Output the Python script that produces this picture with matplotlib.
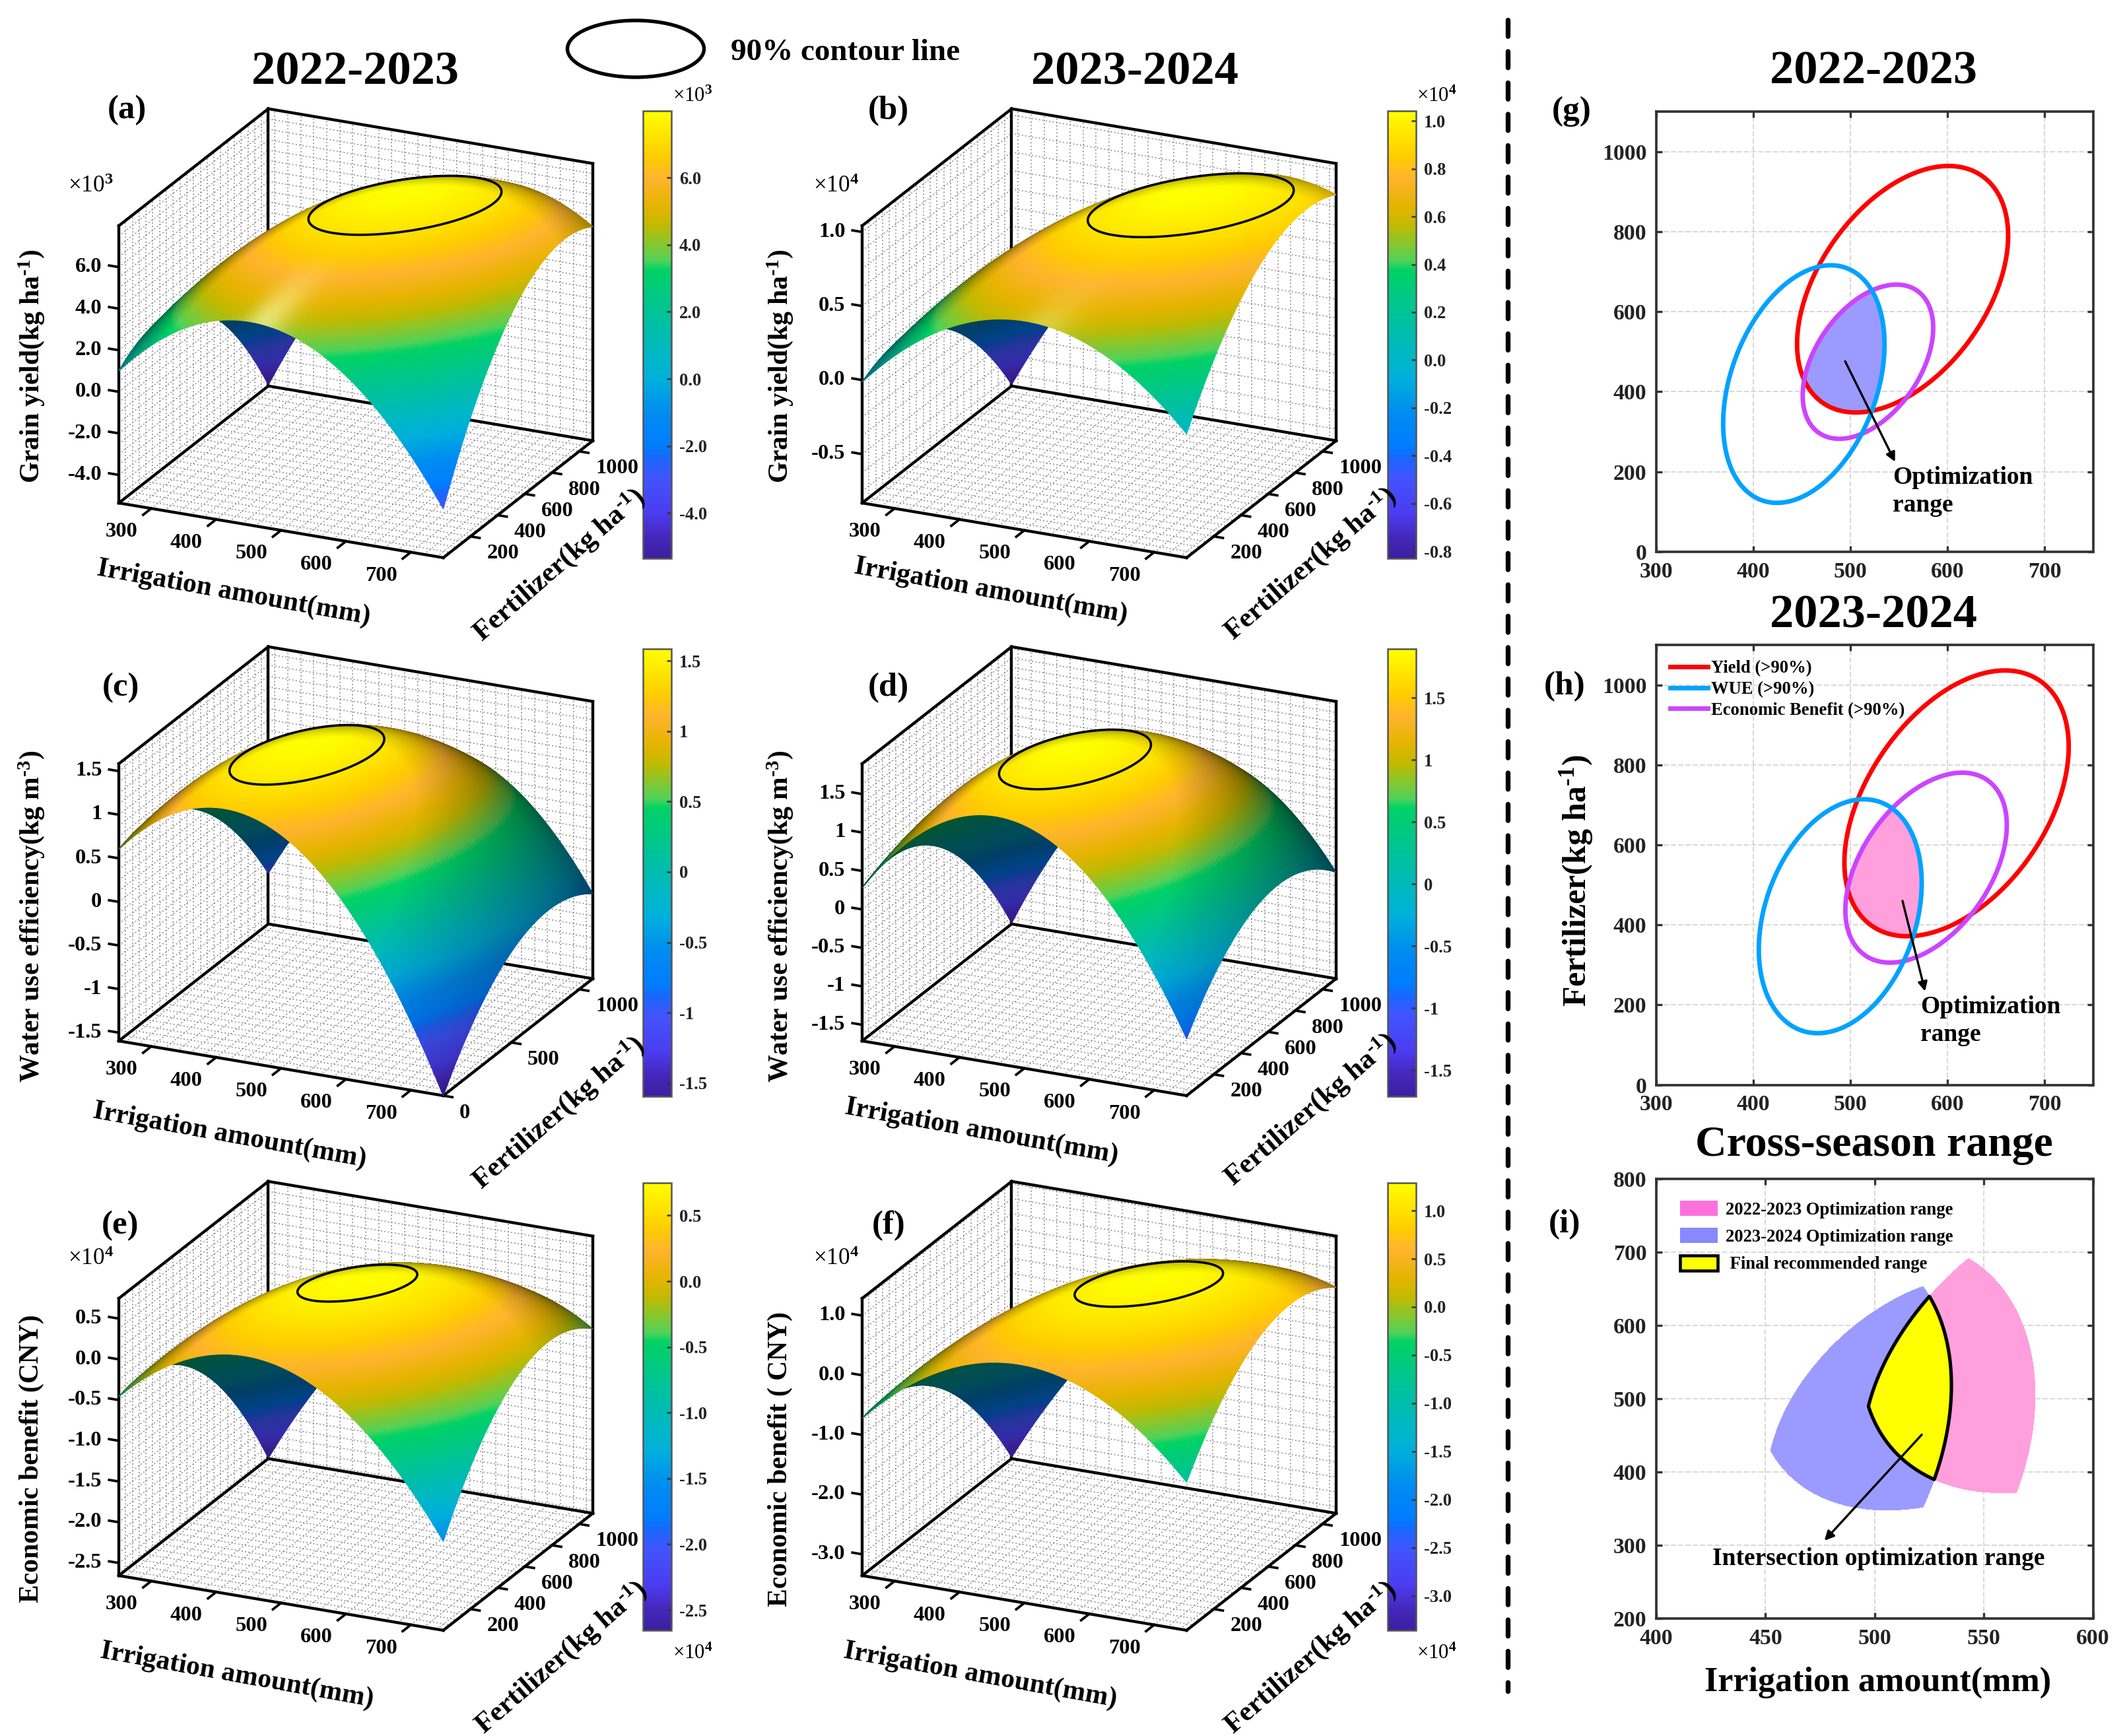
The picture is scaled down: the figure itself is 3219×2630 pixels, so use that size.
import numpy as np
import matplotlib
matplotlib.use("Agg")
import matplotlib.pyplot as plt
from matplotlib.cm import ScalarMappable
from matplotlib.colors import LinearSegmentedColormap, Normalize
from matplotlib.lines import Line2D
from matplotlib.patches import Ellipse, Patch
from mpl_toolkits.mplot3d import proj3d

W, H, DPI = 3219, 2630, 300

plt.rcParams["font.family"] = ["Liberation Serif", "DejaVu Sans"]
plt.rcParams["font.weight"] = "bold"
plt.rcParams["mathtext.fontset"] = "custom"
plt.rcParams["mathtext.rm"] = "Liberation Serif:bold"
plt.rcParams["mathtext.it"] = "Liberation Serif:italic:bold"
plt.rcParams["mathtext.bf"] = "Liberation Serif:bold"
plt.rcParams["mathtext.tt"] = "Liberation Serif"
plt.rcParams["mathtext.default"] = "rm"

# ---------- Values ----------
# Surface heights at irrigation X_READ (columns) and fertilizer Y_READ (rows)
X_READ = [250, 500, 750]
Y_READ = [0, 550, 1100]

GRAIN_2223 = [[1.01, 4.25, -3.00], [1.12, 7.79, 4.19], [-5.30, 5.12, 4.95]]
GRAIN_2324 = [[-0.013, 0.584, 0.006], [-0.041, 0.951, 0.769], [-0.82, 0.619, 0.832]]
WUE_2223 = [[0.604, 1.083, -1.598], [0.394, 1.522, -0.51], [-1.016, 0.761, -0.622]]
WUE_2324 = [[0.281, 1.452, -0.972], [0.059, 1.858, 0.064], [-1.70, 0.837, -0.329]]
ECO_2223 = [[-0.458, 0.243, -1.563], [-0.831, 0.72, -0.238], [-2.65, -0.282, -0.391]]
ECO_2324 = [[-0.72, 0.626, -0.877], [-1.18, 1.145, 0.622], [-3.334, -0.028, 0.429]]

# Colorbar / z ranges
RANGE_A = (-5.35, 7.99)
RANGE_B = (-0.83, 1.042)
RANGE_C = (-1.595, 1.585)
RANGE_D = (-1.71, 1.894)
RANGE_E = (-2.655, 0.748)
RANGE_F = (-3.358, 1.288)

LEVEL = 0.902  # the 90% line

X_TICKS = [300, 400, 500, 600, 700]
Y_TICKS = [200, 400, 600, 800, 1000]
Y_TICKS_C = [0, 500, 1000]

Z_TICKS_A = [6.0, 4.0, 2.0, 0.0, -2.0, -4.0]
Z_LABELS_A = ["6.0", "4.0", "2.0", "0.0", "-2.0", "-4.0"]
Z_TICKS_B = [1.0, 0.5, 0.0, -0.5]
Z_LABELS_B = ["1.0", "0.5", "0.0", "-0.5"]
Z_TICKS_WUE = [1.5, 1.0, 0.5, 0.0, -0.5, -1.0, -1.5]
Z_LABELS_WUE = ["1.5", "1", "0.5", "0", "-0.5", "-1", "-1.5"]
Z_TICKS_E = [0.5, 0.0, -0.5, -1.0, -1.5, -2.0, -2.5]
Z_LABELS_E = ["0.5", "0.0", "-0.5", "-1.0", "-1.5", "-2.0", "-2.5"]
Z_TICKS_F = [1.0, 0.0, -1.0, -2.0, -3.0]
Z_LABELS_F = ["1.0", "0.0", "-1.0", "-2.0", "-3.0"]

CB_TICKS_B = [1.0, 0.8, 0.6, 0.4, 0.2, 0.0, -0.2, -0.4, -0.6, -0.8]
CB_LABELS_B = ["1.0", "0.8", "0.6", "0.4", "0.2", "0.0", "-0.2", "-0.4", "-0.6", "-0.8"]
CB_TICKS_F = [1.0, 0.5, 0.0, -0.5, -1.0, -1.5, -2.0, -2.5, -3.0]
CB_LABELS_F = ["1.0", "0.5", "0.0", "-0.5", "-1.0", "-1.5", "-2.0", "-2.5", "-3.0"]

PANELS = [
    dict(name="(a)", table=GRAIN_2223, zr=RANGE_A, zt=Z_TICKS_A, zl=Z_LABELS_A, cbt=Z_TICKS_A, cbl=Z_LABELS_A,
         zstep=0.5, yt=Y_TICKS, box=(180, 762), cb=(974, 168), letter=(192, 167),
         zlabel="Grain yield(kg ha$^{\\text{-1}}$)", xl=(354, 898), yl=(847, 856), zl_pos=(48, 555),
         mult="3", mult_z=(137, 282), mult_cb=(1049, 146), spec=0.65),
    dict(name="(b)", table=GRAIN_2324, zr=RANGE_B, zt=Z_TICKS_B, zl=Z_LABELS_B, cbt=CB_TICKS_B, cbl=CB_LABELS_B,
         zstep=0.125, yt=Y_TICKS, box=(1306, 762), cb=(2102, 168), letter=(1346, 168),
         zlabel="Grain yield(kg ha$^{\\text{-1}}$)", xl=(1501, 895), yl=(1985, 854), zl_pos=(1182, 555),
         mult="4", mult_z=(1266, 282), mult_cb=(2176, 146), spec=0.55),
    dict(name="(c)", table=WUE_2223, zr=RANGE_C, zt=Z_TICKS_WUE, zl=Z_LABELS_WUE, cbt=Z_TICKS_WUE, cbl=Z_LABELS_WUE,
         zstep=0.125, yt=Y_TICKS_C, box=(180, 1577), cb=(974, 983), letter=(183, 1042),
         zlabel="Water use efficiency(kg m$^{\\text{-3}}$)", xl=(348, 1720), yl=(846, 1686), zl_pos=(48, 1388),
         mult=None, mult_z=None, mult_cb=None, spec=0.05),
    dict(name="(d)", table=WUE_2324, zr=RANGE_D, zt=Z_TICKS_WUE, zl=Z_LABELS_WUE, cbt=Z_TICKS_WUE, cbl=Z_LABELS_WUE,
         zstep=0.125, yt=Y_TICKS, box=(1306, 1577), cb=(2102, 983), letter=(1346, 1042),
         zlabel="Water use efficiency(kg m$^{\\text{-3}}$)", xl=(1487, 1714), yl=(1985, 1681), zl_pos=(1182, 1388),
         mult=None, mult_z=None, mult_cb=None, spec=0.05),
    dict(name="(e)", table=ECO_2223, zr=RANGE_E, zt=Z_TICKS_E, zl=Z_LABELS_E, cbt=Z_TICKS_E, cbl=Z_LABELS_E,
         zstep=0.125, yt=Y_TICKS, box=(180, 2387), cb=(974, 1792), letter=(182, 1857),
         zlabel="Economic benefit (CNY)", xl=(359, 2538), yl=(850, 2511), zl_pos=(48, 2210),
         mult="4", mult_z=(137, 1907), mult_cb=(1049, 2505), spec=0.0),
    dict(name="(f)", table=ECO_2324, zr=RANGE_F, zt=Z_TICKS_F, zl=Z_LABELS_F, cbt=CB_TICKS_F, cbl=CB_LABELS_F,
         zstep=0.25, yt=Y_TICKS, box=(1306, 2387), cb=(2102, 1792), letter=(1346, 1857),
         zlabel="Economic benefit ( CNY)", xl=(1485, 2538), yl=(1985, 2511), zl_pos=(1182, 2210),
         mult="4", mult_z=(1266, 1907), mult_cb=(2176, 2505), spec=0.0),
]

CMAP_STOPS = [
    (0.00, "#3c1ea0"), (0.05, "#4628be"), (0.10, "#4b3cf0"), (0.18, "#4155ff"), (0.22, "#1e64ff"),
    (0.25, "#007dff"), (0.325, "#008cf0"), (0.40, "#00afdc"), (0.47, "#00b9be"), (0.55, "#00c396"),
    (0.645, "#00d264"), (0.665, "#50d25a"), (0.70, "#82c832"), (0.745, "#c3b900"), (0.79, "#e6b400"),
    (0.85, "#ffb42d"), (0.90, "#ffcd00"), (0.95, "#ffe600"), (1.00, "#ffff00"),
]
CMAP = LinearSegmentedColormap.from_list("surface_map", CMAP_STOPS, N=512)

# View of the 3D boxes, worked out from the box edges in the picture
ELEV, AZIM = 21.3, -65.1
BOX_ASPECT = (541, 537, 450)
XLIM, YLIM = (250, 750), (0, 1100)
MESH = 160


def px_x(x):
    return x / W


def px_y(y):
    return 1 - y / H


def surface(table, xx, yy):
    # smooth surface through the 3x3 readings, for drawing on a fine mesh
    t = np.asarray(table, dtype=float)
    u = (xx - X_READ[1]) / (X_READ[2] - X_READ[1])
    v = (yy - Y_READ[1]) / (Y_READ[2] - Y_READ[1])
    bu = [u * (u - 1) / 2, 1 - u**2, u * (u + 1) / 2]
    bv = [v * (v - 1) / 2, 1 - v**2, v * (v + 1) / 2]
    out = np.zeros_like(xx, dtype=float)
    for r in range(3):
        for c in range(3):
            out += t[r, c] * bv[r] * bu[c]
    return out


def shaded_colors(Z, xs, ys, zr, spec):
    norm = Normalize(*zr)
    bx, by, bz = np.array(BOX_ASPECT) / BOX_ASPECT[0]
    zbox = (Z - zr[0]) / (zr[1] - zr[0]) * bz
    dy, dx = np.gradient(zbox, (ys - ys[0]) / (ys[-1] - ys[0]) * by, (xs - xs[0]) / (xs[-1] - xs[0]) * bx)
    n = np.stack([-dx, -dy, np.ones_like(dx)], axis=-1)
    n /= np.linalg.norm(n, axis=-1, keepdims=True)
    e, a = np.radians(ELEV), np.radians(AZIM)
    view = np.array([np.cos(e) * np.cos(a), np.cos(e) * np.sin(a), np.sin(e)])
    vn = n @ view
    s = 1.3 * vn + 1.2 * n[..., 2] + 0.4 * np.clip(-n[..., 0], 0, 1)
    f = np.clip(0.42 + 0.95 * (s - 1.05), 0.40, 1.0)
    pos = norm(Z)
    under = 0.42 + 0.4 * np.clip(1 - pos / 0.35, 0, 1)
    f = np.where(vn < 0, under, f)
    rgb = CMAP(pos)[..., :3] * f[..., None]
    half = np.array([0.076, -0.624, 0.777])
    glow = spec * np.clip(n @ half, 0, 1) ** 140
    glow = np.where(vn < 0, 0, glow)
    # the highlight in the picture stays yellowish, blue takes it up last
    rgb = rgb + (1 - rgb) * glow[..., None] * np.array([1.0, 1.0, 0.75])
    return np.clip(rgb, 0, 1)


def box_pixel(ax, x, y, z):
    xp, yp, _ = proj3d.proj_transform(x, y, z, ax.get_proj())
    return ax.transData.transform((xp, yp))


def place_box(ax, left_x, bottom_y, zr):
    # move the 3D axes until the floor corner lands on the wanted pixel
    side = 0.35
    ax.set_position([0.1, 0.1, side, side * W / H])
    ax.apply_aspect()
    p0 = box_pixel(ax, XLIM[0], YLIM[0], zr[0])
    p1 = box_pixel(ax, XLIM[1], YLIM[1], zr[0])
    side *= 718 / (p1[0] - p0[0])
    ax.set_position([0.1, 0.1, side, side * W / H])
    ax.apply_aspect()
    p0 = box_pixel(ax, XLIM[0], YLIM[0], zr[0])
    dx = (left_x - p0[0]) / W
    dy = ((H - bottom_y) - p0[1]) / H
    ax.set_position([0.1 + dx, 0.1 + dy, side, side * W / H])
    ax.apply_aspect()


def dotted(ax, xs, ys, zs):
    ax.plot(xs, ys, zs, color="#8c8c8c", lw=0.42, linestyle=(0, (1, 2)), zorder=0)


def tick_text(fig, ax, x, y, z, s, ha):
    # tick labels go on as figure text at the projected position of their tick
    p = box_pixel(ax, x, y, z)
    fig.text(p[0] / W, p[1] / H, s, ha=ha, va="center", fontsize=7.8)


def draw_panel(fig, p):
    zr = p["zr"]
    ax = fig.add_axes([0.1, 0.1, 0.35, 0.35], projection="3d", proj_type="ortho", computed_zorder=False)
    ax.set_facecolor("none")
    ax.view_init(elev=ELEV, azim=AZIM)
    ax.set_box_aspect(BOX_ASPECT)
    ax.set_xlim(*XLIM, view_margin=0)
    ax.set_ylim(*YLIM, view_margin=0)
    ax.set_zlim(*zr, view_margin=0)
    ax.set_axis_off()
    place_box(ax, p["box"][0], p["box"][1], zr)

    # dotted grid on the floor and the two walls
    z_lines = np.arange(np.ceil(zr[0] / p["zstep"]) * p["zstep"], zr[1], p["zstep"])
    for gx in np.arange(260, 750, 20):
        dotted(ax, [gx, gx], YLIM, [zr[0], zr[0]])
        dotted(ax, [gx, gx], [YLIM[1], YLIM[1]], zr)
    for gy in np.arange(50, 1100, 50):
        dotted(ax, XLIM, [gy, gy], [zr[0], zr[0]])
        dotted(ax, [XLIM[0], XLIM[0]], [gy, gy], zr)
    for gz in z_lines:
        dotted(ax, XLIM, [YLIM[1], YLIM[1]], [gz, gz])
        dotted(ax, [XLIM[0], XLIM[0]], YLIM, [gz, gz])

    # box edges
    x0, x1, y0, y1, z0, z1 = *XLIM, *YLIM, *zr
    edges = [
        ([x0, x1], [y0, y0], [z0, z0]), ([x1, x1], [y0, y1], [z0, z0]), ([x1, x0], [y1, y1], [z0, z0]),
        ([x0, x0], [y1, y0], [z0, z0]), ([x0, x0], [y0, y0], [z0, z1]), ([x0, x0], [y1, y1], [z0, z1]),
        ([x1, x1], [y1, y1], [z0, z1]), ([x0, x0], [y0, y1], [z1, z1]), ([x0, x1], [y1, y1], [z1, z1]),
    ]
    for ex, ey, ez in edges:
        ax.plot(ex, ey, ez, color="k", lw=1.05, zorder=0.5, solid_capstyle="projecting")

    # the surface with its 90% contour
    xs = np.linspace(*XLIM, MESH)
    ys = np.linspace(*YLIM, MESH)
    XX, YY = np.meshgrid(xs, ys)
    ZZ = surface(p["table"], XX, YY)
    colors = shaded_colors(ZZ, xs, ys, zr, p["spec"])
    ax.plot_surface(XX, YY, ZZ, facecolors=colors, shade=False, rstride=1, cstride=1,
                    linewidth=0.3, antialiased=True, zorder=1)
    ax.contour(XX, YY, ZZ, levels=[LEVEL * ZZ.max()], colors="k", linewidths=0.85, zorder=5)
    ax.set_xlim(*XLIM, view_margin=0)
    ax.set_ylim(*YLIM, view_margin=0)
    ax.set_zlim(*zr, view_margin=0)

    # ticks and tick labels
    zspan = zr[1] - zr[0]
    for tx in X_TICKS:
        ax.plot([tx, tx], [0, -60], [z0, z0], color="k", lw=0.9, zorder=0.6)
        tick_text(fig, ax, tx, -220, z0, str(tx), "center")
    for ty in p["yt"]:
        ax.plot([x1, x1 + 14], [ty, ty], [z0, z0], color="k", lw=0.9, zorder=0.6)
        tick_text(fig, ax, x1 + 25, ty, z0 - 22 / 419 * zspan, str(ty), "left")
    for tz, lab in zip(p["zt"], p["zl"]):
        ax.plot([x0, x0 - 15], [0, 0], [tz, tz], color="k", lw=0.9, zorder=0.6)
        tick_text(fig, ax, x0 - 26, 0, tz - 4 / 419 * zspan, lab, "right")

    # axis labels as plain figure text, they sit at fixed slants in the picture
    fig.text(px_x(p["xl"][0]), px_y(p["xl"][1]), "Irrigation amount(mm)", rotation=-10.2,
             ha="center", va="center", fontsize=10, rotation_mode="anchor")
    fig.text(px_x(p["yl"][0]), px_y(p["yl"][1]), "Fertilizer(kg ha$^{\\text{-1}}$)", rotation=41,
             ha="center", va="center", fontsize=10.4, rotation_mode="anchor")
    fig.text(px_x(p["zl_pos"][0]), px_y(p["zl_pos"][1]), p["zlabel"], rotation=90,
             ha="center", va="center", fontsize=10)
    fig.text(px_x(p["letter"][0]), px_y(p["letter"][1]), p["name"], ha="center", va="center", fontsize=12.2)

    if p["mult"]:
        fig.text(px_x(p["mult_z"][0]), px_y(p["mult_z"][1]), "×10$^{\\mathtt{%s}}$" % p["mult"],
                 ha="center", va="center", fontsize=8.4, fontweight="normal")
        fig.text(px_x(p["mult_cb"][0]), px_y(p["mult_cb"][1]), "×10$^{\\mathtt{%s}}$" % p["mult"],
                 ha="center", va="center", fontsize=7.4, fontweight="normal")

    # colorbar
    cb_x, cb_top = p["cb"]
    cax = fig.add_axes([px_x(cb_x), px_y(cb_top + 678), 43 / W, 678 / H])
    cb = fig.colorbar(ScalarMappable(norm=Normalize(*zr), cmap=CMAP), cax=cax, ticks=p["cbt"])
    cb.ax.set_yticklabels(p["cbl"])
    cb.ax.tick_params(direction="in", length=1.7, width=0.6, labelsize=6.4, pad=2.8,
                      color="#333333", labelcolor="#222222")
    cb.outline.set_edgecolor("#555555")
    cb.outline.set_linewidth(0.6)


def peak_of(table):
    return surface(table, *np.meshgrid(np.linspace(*XLIM, 300), np.linspace(*YLIM, 300))).max()


def region(tables, xx, yy):
    # above zero where every surface in the list passes its 90% level
    m = None
    for t in tables:
        peak = peak_of(t)
        this = (surface(t, xx, yy) - LEVEL * peak) / abs(peak)
        m = this if m is None else np.minimum(m, this)
    return m


def frame_2d(fig, top, bottom, xlim, ylim, xticks, yticks):
    ax = fig.add_axes([px_x(2509), px_y(bottom), 661.5 / W, (bottom - top) / H])
    ax.set_xlim(*xlim)
    ax.set_ylim(*ylim)
    ax.set_xticks(xticks)
    ax.set_yticks(yticks)
    ax.grid(True, linestyle="--", linewidth=0.5, color="#d9d9d9")
    ax.set_axisbelow(True)
    ax.tick_params(direction="in", top=True, right=True, length=2.2, width=0.8, labelsize=8.1,
                   pad=3.5, color="#333333", labelcolor="#222222")
    for s in ax.spines.values():
        s.set_linewidth(0.9)
        s.set_edgecolor("#333333")
    return ax


def draw_contours(ax, tables, fill, xx, yy):
    ax.contourf(xx, yy, region(tables, xx, yy), levels=[0, 100], colors=[fill], zorder=1)
    for t, col in zip(tables, ["#ff0000", "#cc44ff", "#00a2ff"]):
        ax.contour(xx, yy, surface(t, xx, yy), levels=[LEVEL * peak_of(t)], colors=[col], linewidths=1.65, zorder=2)


def arrow(ax, start, end):
    ax.annotate("", xy=end, xytext=start, zorder=5,
                arrowprops=dict(arrowstyle="-|>", color="k", lw=0.8, mutation_scale=7, shrinkA=0, shrinkB=0))


def main():
    fig = plt.figure(figsize=((W + 0.01) / DPI, (H + 0.01) / DPI), dpi=DPI, facecolor="white")

    for p in PANELS:
        draw_panel(fig, p)

    # ---------- Right hand column ----------
    gx = np.linspace(300, 750, 700)
    gy = np.linspace(0, 1100, 900)
    XF, YF = np.meshgrid(gx, gy)

    tables_g = [GRAIN_2223, ECO_2223, WUE_2223]
    tables_h = [GRAIN_2324, ECO_2324, WUE_2324]
    grid_x, grid_y = [300, 400, 500, 600, 700], [0, 200, 400, 600, 800, 1000]

    ax_g = frame_2d(fig, 169, 836, (300, 750), (0, 1100), grid_x, grid_y)
    draw_contours(ax_g, tables_g, "#9b9bff", XF, YF)
    arrow(ax_g, (494.6, 476), (546, 225))
    ax_g.text(543.7, 151, "Optimization\nrange", ha="left", va="center", fontsize=9, linespacing=1.25, zorder=6)

    ax_h = frame_2d(fig, 977, 1643.6, (300, 750), (0, 1100), grid_x, grid_y)
    draw_contours(ax_h, tables_h, "#ff9fdc", XF, YF)
    arrow(ax_h, (553.7, 460), (577, 234))
    ax_h.text(572.4, 160, "Optimization\nrange", ha="left", va="center", fontsize=9, linespacing=1.25, zorder=6)
    handles = [Line2D([], [], color=c, lw=1.65) for c in ["#ff0000", "#00a2ff", "#cc44ff"]]
    ax_h.legend(handles, ["Yield (>90%)", "WUE (>90%)", "Economic Benefit (>90%)"], loc="upper left",
                bbox_to_anchor=(0.032, 0.965), frameon=False, fontsize=6.4, handlelength=2.13, handletextpad=0.2,
                labelspacing=0.25, borderpad=0, borderaxespad=0)

    ax_i = frame_2d(fig, 1785.6, 2452.4, (400, 600), (200, 800), [400, 450, 500, 550, 600],
                    [200, 300, 400, 500, 600, 700, 800])
    ix = np.linspace(400, 600, 900)
    iy = np.linspace(200, 800, 1000)
    XI, YI = np.meshgrid(ix, iy)
    mask_g = region(tables_g, XI, YI)
    mask_h = region(tables_h, XI, YI)
    both = np.minimum(mask_g, mask_h)
    ax_i.contourf(XI, YI, mask_h, levels=[0, 100], colors=["#ff9fdc"], zorder=1)
    ax_i.contourf(XI, YI, mask_g, levels=[0, 100], colors=["#9b9bff"], zorder=1.1)
    ax_i.contourf(XI, YI, both, levels=[0, 100], colors=["#ffff00"], zorder=1.2)
    ax_i.contour(XI, YI, both, levels=[0], colors="k", linewidths=1.25, zorder=2)
    arrow(ax_i, (521.6, 451), (477, 306.5))
    ax_i.text(501.8, 282, "Intersection optimization range", ha="center", va="center", fontsize=9, zorder=6)
    patches = [Patch(facecolor="#ff70dd", edgecolor="none"), Patch(facecolor="#8888ff", edgecolor="none"),
               Patch(facecolor="#ffff00", edgecolor="k", linewidth=1.1)]
    ax_i.legend(patches, ["2022-2023 Optimization range", "2023-2024 Optimization range",
                          " Final recommended range"], loc="upper left", bbox_to_anchor=(0.055, 0.95),
                frameon=False, fontsize=6.4, handlelength=2.13, handleheight=0.95, handletextpad=0.45,
                labelspacing=0.55, borderpad=0, borderaxespad=0)

    # ---------- Titles and loose text ----------
    for cx, cy, s in [(538, 110, "2022-2023"), (1719, 110, "2023-2024"), (2838, 109, "2022-2023"),
                      (2838, 933, "2023-2024")]:
        fig.text(px_x(cx), px_y(cy), s, ha="center", va="center", fontsize=17.4)
    fig.text(px_x(2839), px_y(1735), "Cross-season range", ha="center", va="center", fontsize=15.8)
    fig.text(px_x(2388), px_y(1334), "Fertilizer(kg ha$^{\\text{-1}}$)", rotation=90, ha="center", va="center",
             fontsize=12)
    fig.text(px_x(2845), px_y(2549), "Irrigation amount(mm)", ha="center", va="center", fontsize=12.5)
    for cx, cy, s in [(2381, 169, "(g)"), (2370, 1040, "(h)"), (2370, 1855, "(i)")]:
        fig.text(px_x(cx), px_y(cy), s, ha="center", va="center", fontsize=12.3)

    fig.add_artist(Ellipse((px_x(963), px_y(74)), 207 / W, 86 / H, transform=fig.transFigure,
                           facecolor="none", edgecolor="k", linewidth=1.3))
    fig.text(px_x(1107), px_y(80), "90% contour line", ha="left", va="center", fontsize=11.3)

    fig.add_artist(Line2D([px_x(2284), px_x(2284)], [px_y(30), px_y(2562)], transform=fig.transFigure,
                          color="k", lw=1.76, linestyle=(0, (3.37, 3.11)), dash_capstyle="round"))

    fig.savefig("out.png", dpi=DPI)
    plt.close(fig)


if __name__ == "__main__":
    main()
